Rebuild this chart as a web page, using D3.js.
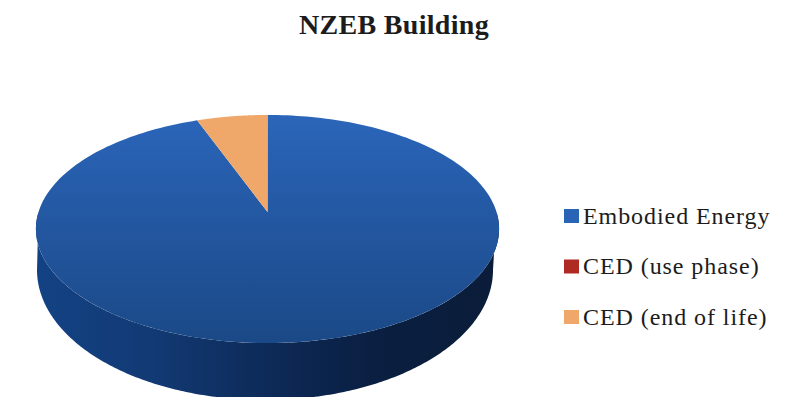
<!DOCTYPE html>
<html>
<head>
<meta charset="utf-8">
<script src="https://cdn.jsdelivr.net/npm/d3@7/dist/d3.min.js"></script>
<style>
html,body{margin:0;padding:0;background:#fff;overflow:hidden}
svg{display:block}
text{font-family:"Liberation Serif",serif;fill:#1c1c1c}
</style>
</head>
<body>
<svg id="chart" width="787" height="397"></svg>
<script>
const chartTitle = "NZEB Building";
const categories = ["Embodied Energy", "CED (use phase)", "CED (end of life)"];
const shares = [94.3, 0, 5.7];
const colors = ["#2a64b4", "#b02a24", "#f0a76a"];

const svg = d3.select("#chart");
const defs = svg.append("defs");

// Perspective applied to the pie's top face: the hub sits above the ellipse's middle.
const hub = {x: 267.5, y: 212};
const spread = {x: 229, y: 111.5};
const tilt = 0.149;
const project = a => {
  const u = Math.sin(a), v = -Math.cos(a), w = 1 - tilt * v;
  return [hub.x + spread.x * u / w, hub.y + spread.y * v / w];
};
// Lower rim of the pie's side wall.
const base = {x: 265, y: 270, rx: 228, ry: 130};
const baseRim = a => [base.x + base.rx * Math.sin(a), base.y - base.ry * Math.cos(a)];

const line = d3.line();
const steps = 240;

const topFill = defs.append("linearGradient").attr("id", "topFill")
  .attr("gradientUnits", "userSpaceOnUse").attr("x1", 0).attr("x2", 0).attr("y1", 115).attr("y2", 343);
[[0, "#2b66ba"], [0.4, "#2459a4"], [1, "#1b4987"]].forEach(([o, c]) =>
  topFill.append("stop").attr("offset", o).attr("stop-color", c));

const wallFill = defs.append("linearGradient").attr("id", "wallFill")
  .attr("gradientUnits", "userSpaceOnUse").attr("x1", 37).attr("x2", 500).attr("y1", 0).attr("y2", 0);
[[0, "#134284"], [0.25, "#123a74"], [0.5, "#0d2a58"], [0.72, "#0a1f42"], [1, "#0a1c38"]].forEach(([o, c]) =>
  wallFill.append("stop").attr("offset", o).attr("stop-color", c));

// Side wall: front half of the top rim, back along the lower rim.
const front = d3.range(steps + 1).map(i => Math.PI / 2 + Math.PI * i / steps);
const silhouette = front.map(project).concat(front.slice().reverse().map(baseRim));
svg.append("path").attr("d", line(silhouette) + "Z").attr("fill", "url(#wallFill)");

// Top face, one wedge per category.
const pie = d3.pie().sort(null).value(d => d)(shares);
svg.selectAll("path.slice").data(pie).join("path")
  .attr("class", "slice")
  .attr("fill", (d, i) => i === 0 ? "url(#topFill)" : colors[i])
  .attr("d", d => {
    const rim = d3.range(steps + 1).map(i => project(d.startAngle + (d.endAngle - d.startAngle) * i / steps));
    return line([[hub.x, hub.y], ...rim]) + "Z";
  });

svg.append("text").attr("x", 394).attr("y", 34)
  .attr("text-anchor", "middle").attr("font-size", 28).attr("font-weight", "bold")
  .attr("letter-spacing", 0.3)
  .text(chartTitle);

// Legend
const legendY = d3.scalePoint().domain(categories).range([216, 317]);
const entry = svg.selectAll("g.entry").data(categories).join("g")
  .attr("class", "entry")
  .attr("transform", d => `translate(0,${legendY(d)})`);
entry.append("rect").attr("x", 564).attr("y", -7).attr("width", 15).attr("height", 14)
  .attr("fill", (d, i) => colors[i]);
entry.append("text").attr("x", 583).attr("y", 7.5).attr("font-size", 24)
  .attr("letter-spacing", 0.93).text(d => d);
</script>
</body>
</html>
